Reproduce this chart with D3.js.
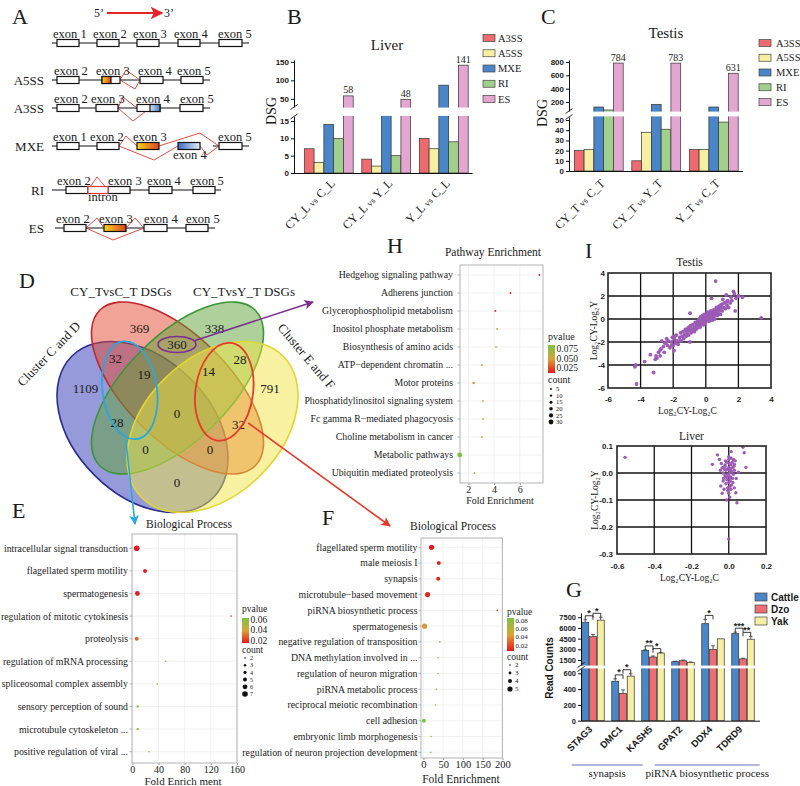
<!DOCTYPE html>
<html>
<head>
<meta charset="utf-8">
<script src="https://cdn.jsdelivr.net/npm/d3@7"></script>
<style>
  body { margin: 0; background: #fff; }
  svg text { font-family: "Liberation Serif", "Times New Roman", serif; fill: #1a1a1a; }
  .tk text { font-family: "Liberation Sans", Arial, sans-serif; font-weight: bold; }
  .tk path, .tk line { stroke: #111; }
</style>
</head>
<body>
<div id="main"></div>
<script>
// ---------------- data ----------------
var spliceTypes = ["A3SS", "A5SS", "MXE", "RI", "ES"];
var spliceColors = ["#ee6a6e", "#f7f0a2", "#4a85c7", "#a1cf8c", "#e3a6d0"];

var liverGroups = ["CY_L vs C_L", "CY_L vs Y_L", "Y_L vs C_L"];
var liverA3SS = [7, 4, 10];
var liverA5SS = [3, 2, 7];
var liverMXE = [14, 18, 87];
var liverRI = [10, 5, 9];
var liverES = [58, 48, 141];

var testisGroups = ["CY_T vs C_T", "CY_T vs Y_T", "Y_T vs C_T"];
var testisA3SS = [20, 10, 21];
var testisA5SS = [21, 38, 21];
var testisMXE = [125, 165, 125];
var testisRI = [80, 41, 48];
var testisES = [784, 783, 631];

// venn: membership key = [Cluster C and D, CY_TvsC_T, CY_TvsY_T, Cluster E and F]
var vennNames = ["Cluster C and D", "CY_TvsC_T DSGs", "CY_TvsY_T DSGs", "Cluster E and F"];
var vennRegions = ["1000", "0100", "0010", "0001", "0110", "1100", "0011", "1110", "0111", "1010", "0101", "1111", "1011", "1101", "1001"];
var vennCounts = [1109, 369, 338, 791, 360, 32, 28, 19, 14, 28, 32, 0, 0, 0, 0];
var cyanLoop = ["1100", "1110", "1010"];
var redLoop = ["0011", "0111", "0101"];

var hTerms = ["Hedgehog signaling pathway", "Adherens junction", "Glycerophospholipid metabolism", "Inositol phosphate metabolism",
  "Biosynthesis of amino acids", "ATP\u2212dependent chromatin ...", "Motor proteins", "Phosphatidylinositol signaling system",
  "Fc gamma R\u2212mediated phagocyosis", "Choline metabolism in cancer", "Metabolic pathways", "Ubiquitin mediated proteolysis"];
var hFold = [7.52, 5.27, 4.1, 4.23, 4.15, 3.06, 2.41, 3.14, 3.14, 3.06, 1.33, 2.47];
var hPval = [0.010, 0.013, 0.016, 0.05, 0.052, 0.046, 0.042, 0.056, 0.056, 0.062, 0.085, 0.07];
var hCount = [5, 6, 7, 5, 5, 6, 10, 5, 5, 5, 30, 6];

var eTerms = ["intracellular signal transduction", "flagellated sperm motility", "spermatogenesis", "regulation of mitotic cytokinesis",
  "proteolysis", "regulation of mRNA processing", "spliceosomal complex assembly", "sensory perception of sound",
  "microtubule cytoskeleton ...", "positive regulation of viral ..."];
var eFold = [6.7, 19.4, 7.7, 151, 6.7, 51, 38, 8.2, 8.2, 25.5];
var ePval = [0.004, 0.008, 0.01, 0.02, 0.028, 0.05, 0.053, 0.062, 0.062, 0.056];
var eCount = [7, 5, 6, 2, 5, 2, 2, 3, 3, 2];

var fTerms = ["flagellated sperm motility", "male meiosis I", "synapsis", "microtubule\u2212based movement", "piRNA biosynthetic process",
  "spermatogenesis", "negative regulation of transposition", "DNA methylation involved in ...", "regulation of neuron migration",
  "piRNA metabolic process", "reciprocal meiotic recombination", "cell adhesion", "embryonic limb morphogenesis",
  "regulation of neuron projection development"];
var fFold = [20.7, 39, 37.5, 10.6, 187, 3, 41.8, 37.5, 37, 33.4, 30.8, 1.3, 19.8, 19];
var fPval = [0.005, 0.008, 0.009, 0.01, 0.014, 0.042, 0.055, 0.058, 0.06, 0.062, 0.065, 0.088, 0.07, 0.07];
var fCount = [5, 4, 4, 5, 2, 5, 2, 2, 2, 2, 2, 4, 2, 2];

var testisPoints = [[-4.3,-4.0],[-4.35,-4.15],[-4.25,-5.65],[-3.75,-3.7],[-3.2,-4.65],[-3.4,-3.1],[-3.0,-3.4],[-3.05,-3.2],[-2.8,-2.7],
  [-2.75,-2.6],[-2.7,-1.9],[-2.4,-1.7],[-2.9,-2.9],[-2.6,-2.4],[-2.55,-2.9],[-2.5,-2.1],[-2.35,-2.3],[-2.3,-1.9],[-2.2,-2.5],
  [-2.1,-2.0],[-2.05,-1.6],[-2.0,-2.3],[-1.95,-2.75],[-1.9,-1.8],[-1.85,-2.1],[-1.8,-1.4],[-1.75,-1.9],[-1.7,-2.2],[-1.6,-1.6],
  [-1.55,-1.2],[-1.5,-1.9],[-1.45,-1.5],[-1.4,-1.1],[-1.35,-1.7],[-1.3,-1.35],[-1.25,-0.9],[-1.2,-1.5],[-1.15,-1.2],[-1.1,-0.8],
  [-1.05,-1.4],[-1.0,-1.0],[-0.97,0.5],[-0.97,-2.0],[-0.95,-0.6],[-0.9,-1.2],[-0.85,-0.85],[-0.8,-0.5],[-0.75,-1.0],[-0.7,-0.7],
  [-0.65,-0.3],[-0.6,-0.9],[-0.55,-0.55],[-0.5,-0.2],[-0.5,-0.75],[-0.45,-0.4],[-0.4,0.0],[-0.4,-0.6],[-0.35,-0.25],[-0.3,0.2],
  [-0.3,-0.45],[-0.25,-0.1],[-0.2,0.3],[-0.2,-0.3],[-0.15,0.05],[-0.1,-0.15],[-0.1,0.4],[-0.05,-0.4],[0.0,0.0],[0.0,0.2],
  [0.0,-0.25],[0.05,0.5],[0.05,0.1],[0.1,-0.1],[0.1,0.3],[0.15,0.6],[0.15,0.0],[0.2,0.2],[0.2,-0.2],[0.25,0.45],[0.3,0.1],
  [0.3,0.7],[0.35,0.3],[0.35,1.8],[0.4,0.5],[0.4,-0.1],[0.45,0.2],[0.5,0.8],[0.5,0.4],[0.55,0.0],[0.6,0.6],[0.6,3.3],[0.65,1.0],
  [0.7,0.3],[0.7,0.8],[0.75,0.5],[0.8,1.1],[0.85,0.7],[0.9,0.4],[0.95,1.0],[1.0,1.3],[1.0,0.7],[1.05,1.7],[1.1,1.0],[1.15,1.4],
  [1.2,0.9],[1.25,2.1],[1.3,1.2],[1.35,1.6],[1.4,1.0],[1.5,1.4],[1.55,1.9],[1.6,1.6],[1.7,2.4],[1.75,2.2],[1.8,0.7],[1.85,1.8],
  [2.0,2.0],[2.25,1.9],[3.4,0.1],[-0.8,-0.9],[-0.6,-0.4],[-0.2,0.0],[0.1,0.1],[0.3,0.3],[-1.6,-1.9],[-2.1,-2.3],[-2.8,-3.2],
  [-3.1,-3.5],[-0.35,-0.7],[0.45,0.65],[0.8,0.9],[-1.2,-1.0],[-0.7,-1.1],[0.25,-0.05],[0.55,0.75],[-0.15,-0.5],[1.3,1.5],
  [0.9,1.2],[-1.9,-1.5],[-2.4,-2.0],[-0.05,0.15],[0.12,0.42],[-0.28,-0.05],[0.62,0.35],[-1.02,-0.7]];

var liverPoints = [[-0.557,0.058],[0.0,-0.244],[0.076,0.095],[0.083,0.075],[0.013,0.079],[-0.061,0.067],[-0.05,0.05],[-0.088,0.032],
  [0.03,0.032],[0.025,0.05],[0.092,0.021],[0.052,0.003],[-0.043,-0.048],[0.03,-0.055],[0.038,-0.073],[0.044,-0.11],[-0.01,-0.1],
  [-0.03,-0.03],[-0.02,0.03],[-0.01,0.04],[0.0,0.05],[0.01,0.03],[0.02,0.02],[-0.025,0.015],[-0.015,0.01],[0.0,0.02],[0.005,0.0],
  [0.015,0.005],[-0.005,-0.005],[-0.02,-0.01],[0.01,-0.015],[0.02,-0.02],[-0.01,-0.025],[0.0,-0.035],[0.005,-0.05],[-0.015,-0.04],
  [0.012,-0.06],[-0.005,-0.065],[0.0,-0.075],[0.008,-0.03],[-0.03,0.0],[0.025,-0.005],[0.03,0.01],[-0.035,0.02],[0.018,0.04],
  [-0.008,0.015],[0.004,0.01],[-0.012,-0.015],[0.01,0.015],[-0.02,0.025],[0.0,-0.01],[0.006,-0.02],[-0.028,-0.02],[0.022,-0.035],
  [-0.04,0.035],[0.035,0.045],[0.002,0.035],[-0.018,0.045],[0.014,-0.045],[-0.006,-0.055],[0.028,0.025],[-0.045,0.01],[0.04,-0.02],
  [0.0,0.06],[0.012,0.055],[-0.025,-0.06],[0.005,-0.09],[-0.035,-0.075]];

var genes = ["STAG3", "DMC1", "KASH5", "GPAT2", "DDX4", "TDRD9"];
var breeds = ["Cattle", "Dzo", "Yak"];
var breedColors = ["#4a86c8", "#ee6d75", "#f6efa3"];
var cattleCounts = [6800, 500, 2860, 1270, 6600, 5200];
var dzoCounts = [4780, 345, 1920, 1400, 3000, 1650];
var yakCounts = [7100, 565, 2480, 1180, 4470, 4420];
var cattleErr = [350, 30, 60, 60, 600, 200];
var dzoErr = [300, 45, 150, 100, 500, 100];
var yakErr = [400, 30, 60, 40, 0, 400];
var sigGenes = ["STAG3", "STAG3", "DMC1", "DMC1", "KASH5", "KASH5", "DDX4", "TDRD9", "TDRD9"];
var sigFrom = ["Cattle", "Dzo", "Cattle", "Dzo", "Cattle", "Dzo", "Cattle", "Cattle", "Dzo"];
var sigTo = ["Dzo", "Yak", "Dzo", "Yak", "Dzo", "Yak", "Dzo", "Dzo", "Yak"];
var sigMarks = ["*", "*", "*", "*", "**", "*", "*", "***", "**"];
var processNames = ["synapsis", "piRNA biosynthetic process"];
var processFirst = ["STAG3", "GPAT2"];
var processLast = ["KASH5", "TDRD9"];

// ---------------- setup ----------------
var svg = d3.select("#main").append("svg").attr("width", 800).attr("height", 786);
svg.append("rect").attr("width", 800).attr("height", 786).attr("fill", "#fff");
var defs = svg.append("defs");

var pColors = ["#e8191c", "#d9a437", "#7bc244"];

function lingrad(id, stops, vertical) {
  var gr = defs.append("linearGradient").attr("id", id)
    .attr("x1", 0).attr("y1", 0).attr("x2", vertical ? 0 : 1).attr("y2", vertical ? 1 : 0);
  stops.forEach(function (c, i) {
    gr.append("stop").attr("offset", (i / (stops.length - 1) * 100) + "%").attr("stop-color", c);
  });
}
lingrad("gOrange", ["#f7d51d", "#eb8d20", "#d8431f"]);
lingrad("gBlue", ["#3c6cbd", "#8fb0de", "#e4edf8"]);
lingrad("gBlueR", ["#dbe7f6", "#4a7cc4"]);
lingrad("gP", [pColors[2], pColors[1], pColors[0]], true);

function arrowHead(id, color, size) {
  defs.append("marker").attr("id", id).attr("viewBox", "0 0 10 10").attr("refX", 9).attr("refY", 5)
    .attr("markerWidth", size).attr("markerHeight", size).attr("orient", "auto")
    .append("path").attr("d", "M0,0L10,5L0,10L2.5,5z").attr("fill", color);
}
arrowHead("ahTop", "#e3262c", 7);
arrowHead("ahPurple", "#7d2f90", 6);
arrowHead("ahCyan", "#29a8e0", 6);
arrowHead("ahRed", "#e8392a", 6);

function label(g, x, y, s, size, anchor) {
  return g.append("text").attr("x", x).attr("y", y).attr("font-size", size)
    .attr("text-anchor", anchor || "start").text(s);
}
var plain = function (d) { return d; };

// panel letters
var panelLetters = [["A", 12, 24], ["B", 287, 24], ["C", 541, 24], ["D", 19, 288], ["H", 387, 253],
  ["I", 585, 258], ["E", 12, 518], ["F", 322, 525], ["G", 566, 597]];
panelLetters.forEach(function (p) { label(svg, p[1], p[2], p[0], 22); });

// ---------------- A : splicing schematics ----------------
var gA = svg.append("g");
label(gA, 94, 17, "5\u2019", 12);
gA.append("line").attr("x1", 107).attr("y1", 13).attr("x2", 162).attr("y2", 13)
  .attr("stroke", "#e3262c").attr("stroke-width", 1.8).attr("marker-end", "url(#ahTop)");
label(gA, 164, 17, "3\u2019", 12);

var rowsA = [
  { name: "", y: 43, lines: [[52, 249]],
    exons: [[57, 22, "exon 1", 53], [97, 22, "exon 2", 93], [137, 22, "exon 3", 133], [178, 22, "exon 4", 174], [219, 23, "exon 5", 218]],
    splices: [] },
  { name: "A5SS", y: 80, lines: [[52, 210]],
    exons: [[57, 22, "exon 2", 54], [102, 18, "exon 3", 96], [140, 23, "exon 4", 138], [181, 22, "exon 5", 177]],
    parts: [[102, 9, "url(#gOrange)"]],
    splices: [[[120, 80], [126, 70], [140, 80]], [[120, 80], [135, 89], [140, 80]]] },
  { name: "A3SS", y: 108, lines: [[52, 210]],
    exons: [[57, 22, "exon 2", 54], [96, 22, "exon 3", 91], [137, 23, "exon 4", 136], [180, 23, "exon 5", 180]],
    parts: [[150, 10, "url(#gBlueR)"]],
    splices: [[[118, 108], [123, 97], [137, 108]], [[118, 108], [133, 121], [150, 108]]] },
  { name: "MXE", y: 146, lines: [[52, 119], [213, 249]],
    exons: [[57, 22, "exon 1", 53], [97, 22, "exon 2", 90], [137, 22, "exon 3", 133, "url(#gOrange)"],
      [178, 22, "exon 4", 173, "url(#gBlue)", 1], [219, 23, "exon 5", 218]],
    splices: [[[119, 146], [126, 136], [137, 146]], [[159, 146], [200, 133], [219, 146]],
      [[119, 146], [154, 160], [178, 146]], [[200, 146], [207, 155], [219, 146]]] },
  { name: "RI", y: 190, lines: [[52, 221]],
    exons: [[66, 22, "exon 2", 57], [108, 22, "exon 3", 108], [149, 23, "exon 4", 147], [193, 22, "exon 5", 190]],
    intron: [88, 20],
    splices: [[[88, 190], [97, 177], [108, 190]]] },
  { name: "ES", y: 228, lines: [[55, 215]],
    exons: [[64, 22, "exon 2", 56], [104, 22, "exon 3", 99, "url(#gOrange)"], [144, 23, "exon 4", 144], [186, 22, "exon 5", 186]],
    splices: [[[86, 228], [97, 218], [104, 228]], [[126, 228], [135, 218], [144, 228]], [[86, 228], [113, 240], [144, 228]]] }
];

rowsA.forEach(function (r) {
  var g = gA.append("g");
  r.lines.forEach(function (l) {
    g.append("line").attr("x1", l[0]).attr("x2", l[1]).attr("y1", r.y).attr("y2", r.y)
      .attr("stroke", "#111").attr("stroke-width", 1.2);
  });
  r.splices.forEach(function (p) {
    g.append("path").attr("d", d3.line()(p)).attr("fill", "none").attr("stroke", "#e2392f").attr("stroke-width", 0.9);
  });
  r.exons.forEach(function (e) {
    g.append("rect").attr("x", e[0]).attr("y", r.y - 3.5).attr("width", e[1]).attr("height", 7)
      .attr("fill", e[4] || "#fff").attr("stroke", "#111").attr("stroke-width", 1.2);
    label(g, e[3], e[5] ? r.y + 13 : r.y - 5, e[2], 12.5);
  });
  (r.parts || []).forEach(function (p) {
    g.append("rect").attr("x", p[0]).attr("y", r.y - 3.5).attr("width", p[1]).attr("height", 7)
      .attr("fill", p[2]).attr("stroke", "#111").attr("stroke-width", 1.2);
  });
  if (r.intron) {
    g.append("rect").attr("x", r.intron[0]).attr("y", r.y - 3.5).attr("width", r.intron[1]).attr("height", 7)
      .attr("fill", "#fff").attr("stroke", "#e2392f").attr("stroke-width", 1.2);
    label(g, r.intron[0], r.y + 11, "intron", 12.5);
  }
  if (r.name) label(g, 44, r.y, r.name, 13, "end").attr("dy", "0.35em");
});

// ---------------- B, C, G : bar charts with a broken y axis ----------------
function brokenBars(o) {
  var g = svg.append("g");
  var x0 = d3.scaleBand().domain(o.groups).range(o.band).paddingInner(o.padIn).paddingOuter(o.padOut);
  var x1 = d3.scaleBand().domain(o.series).range([0, x0.bandwidth()]).paddingInner(o.barGap || 0);
  var yLow = d3.scaleLinear().domain(o.lowDomain).range(o.lowRange);
  var yUp = d3.scaleLinear().domain(o.upDomain).range(o.upRange);
  var lowMax = o.lowDomain[1], upMin = o.upDomain[0];
  var gapBottom = yLow(lowMax), gapTop = yUp(upMin);
  var yv = function (v) {
    if (v <= lowMax) return yLow(v);
    if (v >= upMin) return yUp(v);
    return gapBottom + (gapTop - gapBottom) * (v - lowMax) / (upMin - lowMax);
  };
  var cells = [];
  o.series.forEach(function (s, si) {
    o.groups.forEach(function (gr, gi) {
      cells.push({ s: s, si: si, g: gr, v: o.values[si][gi], e: o.errors ? o.errors[si][gi] : 0 });
    });
  });
  g.selectAll(".bar").data(cells).enter().append("rect").attr("class", "bar")
    .attr("x", function (d) { return x0(d.g) + x1(d.s); })
    .attr("width", x1.bandwidth())
    .attr("y", function (d) { return yv(d.v); })
    .attr("height", function (d) { return yLow(0) - yv(d.v); })
    .attr("fill", function (d) { return o.colors[d.si]; })
    .attr("stroke", "#333").attr("stroke-width", 0.7);
  if (o.errors) {
    g.selectAll(".err").data(cells.filter(function (d) { return d.e > 0; })).enter().append("path")
      .attr("d", function (d) {
        var cx = x0(d.g) + x1(d.s) + x1.bandwidth() / 2, y1 = yv(d.v), y2 = yv(d.v + d.e);
        return "M" + cx + "," + y1 + "V" + y2 + "M" + (cx - 1.8) + "," + y2 + "H" + (cx + 1.8);
      })
      .attr("stroke", "#333").attr("stroke-width", 0.8).attr("fill", "none");
  }
  // white band = the break
  g.append("rect").attr("x", o.axisX - 5).attr("y", gapTop + 0.6)
    .attr("width", o.axisEnd - o.axisX + 8).attr("height", gapBottom - gapTop - 1.2).attr("fill", "#fff");
  [yLow, yUp].forEach(function (sc, k) {
    var ax = g.append("g").attr("class", "tk").attr("transform", "translate(" + o.axisX + ",0)")
      .call(d3.axisLeft(sc).tickValues(k ? o.upTicks : o.lowTicks).tickFormat(plain).tickSize(3).tickPadding(2).tickSizeOuter(0));
    ax.selectAll("text").attr("font-size", o.tickFont);
  });
  g.append("line").attr("x1", o.axisX).attr("x2", o.axisEnd).attr("y1", yLow(0) + 0.5).attr("y2", yLow(0) + 0.5)
    .attr("stroke", "#111");
  [gapTop, gapBottom].forEach(function (yy) {
    g.append("line").attr("x1", o.axisX - 3.5).attr("y1", yy + 2.5).attr("x2", o.axisX + 3.5).attr("y2", yy - 2.5)
      .attr("stroke", "#111").attr("stroke-width", 0.9);
  });
  return { g: g, x0: x0, x1: x1, yv: yv };
}

function groupLabels(chart, groups, y, dx) {
  chart.g.selectAll(".xl").data(groups).enter().append("text").attr("class", "xl")
    .attr("transform", function (d) {
      return "translate(" + (chart.x0(d) + chart.x0.bandwidth() / 2 + dx) + "," + y + ") rotate(-45)";
    })
    .attr("text-anchor", "end").attr("font-size", 12)
    .each(function (d) {
      var parts = d.split(" vs "), t = d3.select(this);
      t.append("tspan").text(parts[0] + " ");
      t.append("tspan").attr("font-size", 9).text("vs");
      t.append("tspan").text(" " + parts[1]);
    });
}

function esLabels(chart, groups, values) {
  chart.g.selectAll(".vl").data(values).enter().append("text").attr("class", "vl")
    .attr("x", function (d, i) { return chart.x0(groups[i]) + chart.x1("ES") + chart.x1.bandwidth() / 2; })
    .attr("y", function (d) { return chart.yv(d) - 2.5; })
    .attr("text-anchor", "middle").attr("font-size", 10).text(function (d) { return d; });
}

function barLegend(x, yTop, yBottom, textX) {
  var ly = d3.scalePoint().domain(spliceTypes).range([yTop, yBottom]);
  var g = svg.append("g");
  g.selectAll("rect").data(spliceTypes).enter().append("rect")
    .attr("x", x).attr("y", function (d) { return ly(d) - 3.5; }).attr("width", 12).attr("height", 7)
    .attr("fill", function (d, i) { return spliceColors[i]; }).attr("stroke", "#444").attr("stroke-width", 0.7);
  g.selectAll("text").data(spliceTypes).enter().append("text")
    .attr("x", textX).attr("y", ly).attr("dy", "0.35em").attr("font-size", 10.5).text(function (d) { return d; });
}

// B  Liver
var liverChart = brokenBars({
  groups: liverGroups, series: spliceTypes, colors: spliceColors,
  values: [liverA3SS, liverA5SS, liverMXE, liverRI, liverES],
  band: [300, 472.5], padIn: 0.15, padOut: 0.075, axisX: 294, axisEnd: 472.5,
  lowDomain: [0, 16.3], lowRange: [173, 116.5], lowTicks: [0, 5, 10, 15],
  upDomain: [28, 155], upRange: [107, 60], upTicks: [50, 100, 150], tickFont: 8
});
groupLabels(liverChart, liverGroups, 184, 7);
esLabels(liverChart, liverGroups, liverES);
label(svg, 387, 50, "Liver", 15, "middle");
svg.append("text").attr("transform", "translate(276,111) rotate(-90)").attr("text-anchor", "middle")
  .attr("font-size", 14).text("DSG");
barLegend(483, 38, 99, 498);

// C  Testis
var testisChart = brokenBars({
  groups: testisGroups, series: spliceTypes, colors: spliceColors,
  values: [testisA3SS, testisA5SS, testisMXE, testisRI, testisES],
  band: [570, 742.5], padIn: 0.15, padOut: 0.075, axisX: 569, axisEnd: 743,
  lowDomain: [0, 53], lowRange: [171, 117], lowTicks: [0, 10, 20, 30, 40, 50],
  upDomain: [65, 830], upRange: [111, 60], upTicks: [200, 400, 600, 800], tickFont: 8
});
groupLabels(testisChart, testisGroups, 184, 7);
esLabels(testisChart, testisGroups, testisES);
label(svg, 666, 38, "Testis", 15, "middle");
svg.append("text").attr("transform", "translate(547,113) rotate(-90)").attr("text-anchor", "middle")
  .attr("font-size", 14).text("DSG");
barLegend(759, 43, 102, 776);

// ---------------- D : Venn ----------------
var gD = svg.append("g");
var vennShapes = [
  { cx: 142.5, cy: 427, a: 100, b: 68, rot: 45, fill: "#3036b5", stroke: "#2a2e8c" },
  { cx: 177.5, cy: 388, a: 110, b: 52, rot: 45, fill: "#e2482e", stroke: "#c1272d" },
  { cx: 177.5, cy: 388, a: 110, b: 52, rot: -45, fill: "#5da235", stroke: "#3b9537" },
  { cx: 212.5, cy: 427, a: 100, b: 68, rot: -45, fill: "#efe443", stroke: "#e3d630" }
];
vennShapes.forEach(function (s) {
  gD.append("ellipse").attr("cx", s.cx).attr("cy", s.cy).attr("rx", s.a).attr("ry", s.b)
    .attr("transform", "rotate(" + s.rot + "," + s.cx + "," + s.cy + ")")
    .attr("fill", s.fill).attr("fill-opacity", 0.5).attr("stroke", s.stroke).attr("stroke-width", 1.6);
});
function ellipseQ(s, px, py) {
  var t = s.rot * Math.PI / 180, dx = px - s.cx, dy = py - s.cy;
  var u = dx * Math.cos(t) + dy * Math.sin(t), v = -dx * Math.sin(t) + dy * Math.cos(t);
  return u * u / (s.a * s.a) + v * v / (s.b * s.b);
}
// region label = most interior grid point of each region
var regionBest = {};
for (var px = 30; px <= 330; px += 1.5) {
  for (var py = 280; py <= 540; py += 1.5) {
    var key = "", margin = Infinity;
    vennShapes.forEach(function (s) {
      var q = ellipseQ(s, px, py);
      key += q <= 1 ? "1" : "0";
      margin = Math.min(margin, Math.abs(Math.sqrt(q) - 1) * s.b);
    });
    if (!regionBest[key] || margin > regionBest[key].m) regionBest[key] = { x: px, y: py, m: margin };
  }
}
gD.selectAll(".vc").data(vennRegions).enter().append("text").attr("class", "vc")
  .attr("x", function (k) { return regionBest[k].x; })
  .attr("y", function (k) { return regionBest[k].y; })
  .attr("dy", "0.35em").attr("text-anchor", "middle").attr("font-size", 13)
  .text(function (k, i) { return vennCounts[i]; });

label(gD, 121, 296, vennNames[1], 13, "middle");
label(gD, 244, 296, vennNames[2], 13, "middle");
gD.append("text").attr("transform", "translate(52,357) rotate(-46)").attr("text-anchor", "middle")
  .attr("font-size", 13).text(vennNames[0]);
gD.append("text").attr("transform", "translate(303,359) rotate(50)").attr("text-anchor", "middle")
  .attr("font-size", 13).text(vennNames[3]);

// highlight loops around groups of region labels, and arrows to the enrichment panels
function loopAround(keys, color, tilt) {
  var xs = keys.map(function (k) { return regionBest[k].x; }), ys = keys.map(function (k) { return regionBest[k].y; });
  var cx = (d3.min(xs) + d3.max(xs)) / 2, cy = (d3.min(ys) + d3.max(ys)) / 2;
  gD.append("ellipse").attr("cx", cx).attr("cy", cy)
    .attr("rx", (d3.max(xs) - d3.min(xs)) / 2 + 13).attr("ry", (d3.max(ys) - d3.min(ys)) / 2 + 17)
    .attr("transform", "rotate(" + tilt + "," + cx + "," + cy + ")")
    .attr("fill", "none").attr("stroke", color).attr("stroke-width", 1.8);
  return { x: cx, y: cy + (d3.max(ys) - d3.min(ys)) / 2 + 17 };
}
var cyanEnd = loopAround(cyanLoop, "#29a8e0", -8);
var redEnd = loopAround(redLoop, "#e8392a", 8);
var mid = regionBest["0110"];
gD.append("ellipse").attr("cx", mid.x).attr("cy", mid.y).attr("rx", 19).attr("ry", 8)
  .attr("fill", "none").attr("stroke", "#7d2f90").attr("stroke-width", 1.6);
gD.append("line").attr("x1", mid.x + 18).attr("y1", mid.y - 4).attr("x2", 313).attr("y2", 302)
  .attr("stroke", "#7d2f90").attr("stroke-width", 1.6).attr("marker-end", "url(#ahPurple)");
gD.append("line").attr("x1", cyanEnd.x - 4).attr("y1", cyanEnd.y).attr("x2", 135).attr("y2", 524)
  .attr("stroke", "#29a8e0").attr("stroke-width", 1.6).attr("marker-end", "url(#ahCyan)");
gD.append("line").attr("x1", redEnd.x + 24).attr("y1", redEnd.y - 18).attr("x2", 390).attr("y2", 526)
  .attr("stroke", "#e8392a").attr("stroke-width", 1.6).attr("marker-end", "url(#ahRed)");

// ---------------- E, F, H : enrichment dot plots ----------------
function dotPlot(o) {
  var g = svg.append("g");
  var x = d3.scaleLinear().domain(o.xDomain).range([o.box[0], o.box[1]]);
  var y = d3.scalePoint().domain(o.terms).range([o.rowTop, o.rowBottom]);
  var color = d3.scaleLinear().domain([o.pRange[0], (o.pRange[0] + o.pRange[1]) / 2, o.pRange[1]])
    .range(pColors).clamp(true);
  var size = d3.scaleLinear().domain(o.countRange).range(o.rRange);
  var bw = o.box[1] - o.box[0], bh = o.box[3] - o.box[2];
  g.selectAll(".gx").data(o.xTicks).enter().append("line")
    .attr("x1", x).attr("x2", x).attr("y1", o.box[2]).attr("y2", o.box[3]).attr("stroke", "#ebebeb").attr("stroke-width", 0.7);
  g.selectAll(".gy").data(o.terms).enter().append("line")
    .attr("x1", o.box[0]).attr("x2", o.box[1]).attr("y1", y).attr("y2", y).attr("stroke", "#ebebeb").attr("stroke-width", 0.7);
  g.append("rect").attr("x", o.box[0]).attr("y", o.box[2]).attr("width", bw).attr("height", bh)
    .attr("fill", "none").attr("stroke", "#b3b3b3").attr("stroke-width", 1);
  g.selectAll(".tm").data(o.terms).enter().append("line")
    .attr("x1", o.box[0] - 2.5).attr("x2", o.box[0]).attr("y1", y).attr("y2", y).attr("stroke", "#999").attr("stroke-width", 0.7);
  g.selectAll(".lab").data(o.terms).enter().append("text")
    .attr("x", o.box[0] - o.labelGap).attr("y", y).attr("dy", "0.35em").attr("text-anchor", "end")
    .attr("font-size", 9.8).text(function (d) { return d; });
  var pts = o.terms.map(function (t, i) { return { t: t, f: o.fold[i], p: o.pval[i], c: o.count[i] }; });
  g.selectAll(".dot").data(pts).enter().append("circle")
    .attr("cx", function (d) { return x(d.f); }).attr("cy", function (d) { return y(d.t); })
    .attr("r", function (d) { return size(d.c); }).attr("fill", function (d) { return color(d.p); });
  var ax = g.append("g").attr("transform", "translate(0," + o.box[3] + ")")
    .call(d3.axisBottom(x).tickValues(o.xTicks).tickFormat(plain).tickSize(2).tickPadding(1).tickSizeOuter(0));
  ax.select(".domain").remove();
  ax.selectAll("line").attr("stroke", "#999");
  ax.selectAll("text").attr("font-size", o.tickFont);
  label(g, o.titleX, o.titleY, o.title, 11.5, "middle");
  label(g, o.xTitleX, o.xTitleY, o.xTitle, o.xTitleSize, "middle");
  // legend
  label(g, o.legX, o.pvalY, "pvalue", o.legSize);
  g.append("rect").attr("x", o.legX).attr("y", o.barTop).attr("width", 7).attr("height", o.barBottom - o.barTop)
    .attr("fill", "url(#gP)");
  var ly = d3.scaleLinear().domain(o.pRange).range([o.barBottom, o.barTop]);
  g.selectAll(".pt").data(o.pTicks).enter().append("text")
    .attr("x", o.legX + 8.5).attr("y", ly).attr("dy", "0.35em").attr("font-size", o.pFont)
    .text(d3.format(o.pFmt));
  label(g, o.legX, o.countY, "count", o.legSize);
  var cy = d3.scalePoint().domain(o.countKeys).range([o.countTop, o.countBottom]);
  g.selectAll(".ck").data(o.countKeys).enter().append("circle")
    .attr("cx", o.legX + 3).attr("cy", cy).attr("r", size).attr("fill", "#111");
  g.selectAll(".cl").data(o.countKeys).enter().append("text")
    .attr("x", o.legX + 8).attr("y", cy).attr("dy", "0.35em").attr("font-size", o.countFont)
    .text(function (d) { return d; });
}

// H
dotPlot({
  terms: hTerms, fold: hFold, pval: hPval, count: hCount,
  box: [460, 543, 265, 483], rowTop: 275, rowBottom: 473, xDomain: [1.35, 7.8], xTicks: [2, 4, 6],
  pRange: [0.012, 0.085], countRange: [5, 30], rRange: [0.9, 2.4], labelGap: 7, tickFont: 10,
  title: "Pathway Enrichment", titleX: 493, titleY: 256,
  xTitle: "Fold Enrichment", xTitleX: 500, xTitleY: 504, xTitleSize: 10,
  legX: 548, pvalY: 340, barTop: 345, barBottom: 373, pTicks: [0.025, 0.05, 0.075], pFmt: ".3f", pFont: 9.5,
  countY: 383, countKeys: [5, 10, 15, 20, 25, 30], countTop: 389, countBottom: 422, legSize: 10, countFont: 6.5
});
// E
dotPlot({
  terms: eTerms, fold: eFold, pval: ePval, count: eCount,
  box: [132, 237, 534, 763], rowTop: 548.3, rowBottom: 751.7, xDomain: [-0.5, 160], xTicks: [0, 40, 80, 120, 160],
  pRange: [0.015, 0.063], countRange: [2, 7], rRange: [0.8, 2.8], labelGap: 4, tickFont: 10,
  title: "Biological Process", titleX: 189, titleY: 528,
  xTitle: "Fold Enrich ment", xTitleX: 183, xTitleY: 785, xTitleSize: 11,
  legX: 242, pvalY: 612, barTop: 618, barBottom: 643, pTicks: [0.02, 0.04, 0.06], pFmt: ".2f", pFont: 9.5,
  countY: 653, countKeys: [2, 3, 4, 5, 6, 7], countTop: 658, countBottom: 694, legSize: 9.5, countFont: 6.2
});
// F
dotPlot({
  terms: fTerms, fold: fFold, pval: fPval, count: fCount,
  box: [421, 502.4, 538, 758], rowTop: 547.3, rowBottom: 752.3, xDomain: [-6, 200], xTicks: [0, 50, 100, 150, 200],
  pRange: [0.006, 0.086], countRange: [2, 5], rRange: [0.8, 2.6], labelGap: 3.5, tickFont: 10.5,
  title: "Biological Process", titleX: 453, titleY: 530,
  xTitle: "Fold Enrichment", xTitleX: 461, xTitleY: 783, xTitleSize: 11.5,
  legX: 507, pvalY: 615, barTop: 618, barBottom: 651, pTicks: [0.02, 0.04, 0.06, 0.08], pFmt: ".2f", pFont: 7,
  countY: 660, countKeys: [2, 3, 4, 5], countTop: 665, countBottom: 689, legSize: 9.5, countFont: 7
});

// ---------------- I : scatter plots ----------------
function scatter(o) {
  var g = svg.append("g");
  var x = d3.scaleLinear().domain(o.xDomain).range([o.box[0], o.box[1]]);
  var y = d3.scaleLinear().domain(o.yDomain).range([o.box[3], o.box[2]]);
  var inner = function (t, dom) { return t.filter(function (v) { return v > dom[0] + 1e-9 && v < dom[1] - 1e-9; }); };
  g.selectAll(".vx").data(inner(o.xTicks, o.xDomain)).enter().append("line")
    .attr("x1", x).attr("x2", x).attr("y1", o.box[2]).attr("y2", o.box[3]).attr("stroke", "#111").attr("stroke-width", 1.3);
  g.selectAll(".hy").data(inner(o.yTicks, o.yDomain)).enter().append("line")
    .attr("y1", y).attr("y2", y).attr("x1", o.box[0]).attr("x2", o.box[1]).attr("stroke", "#111").attr("stroke-width", 1.3);
  g.selectAll(".pt").data(o.points).enter().append("circle")
    .attr("cx", function (d) { return x(d[0]); }).attr("cy", function (d) { return y(d[1]); })
    .attr("r", o.r).attr("fill", "#9c5bb5");
  g.append("rect").attr("x", o.box[0]).attr("y", o.box[2]).attr("width", o.box[1] - o.box[0])
    .attr("height", o.box[3] - o.box[2]).attr("fill", "none").attr("stroke", "#222").attr("stroke-width", 1.6);
  var ax = g.append("g").attr("class", "tk").attr("transform", "translate(0," + o.box[3] + ")")
    .call(d3.axisBottom(x).tickValues(o.xTicks).tickFormat(o.fmt).tickSize(0).tickPadding(o.padX));
  ax.select(".domain").remove();
  ax.selectAll("text").attr("font-size", 8);
  var ay = g.append("g").attr("class", "tk").attr("transform", "translate(" + o.box[0] + ",0)")
    .call(d3.axisLeft(y).tickValues(o.yTicks).tickFormat(o.fmt).tickSize(0).tickPadding(o.padY));
  ay.select(".domain").remove();
  ay.selectAll("text").attr("font-size", 8);
  label(g, (o.box[0] + o.box[1]) / 2, o.titleY, o.title, 11.5, "middle");
  label(g, (o.box[0] + o.box[1]) / 2 - 2, o.xTitleY, "Log\u2082CY-Log\u2082C", 9.5, "middle");
  g.append("text").attr("transform", "translate(" + o.yTitleX + "," + (o.box[2] + o.box[3]) / 2 + ") rotate(-90)")
    .attr("text-anchor", "middle").attr("font-size", 9.5).text("Log\u2082CY-Log\u2082Y");
}
scatter({
  points: testisPoints, title: "Testis", box: [608, 771, 273, 388], xDomain: [-6, 4], yDomain: [-6, 4],
  xTicks: [-6, -4, -2, 0, 2, 4], yTicks: [-6, -4, -2, 0, 2, 4], fmt: plain,
  padX: 8, padY: 3, r: 1.9, titleY: 266, xTitleY: 414, yTitleX: 597
});
scatter({
  points: liverPoints, title: "Liver", box: [617, 766, 446, 554], xDomain: [-0.6, 0.2], yDomain: [-0.3, 0.1],
  xTicks: [-0.6, -0.4, -0.2, 0, 0.2], yTicks: [-0.3, -0.2, -0.1, 0, 0.1], fmt: function (d) { return d.toFixed(1); },
  padX: 9, padY: 4, r: 1.7, titleY: 440, xTitleY: 581, yTitleX: 598
});

// ---------------- G : read counts ----------------
var gChart = brokenBars({
  groups: genes, series: breeds, colors: breedColors,
  values: [cattleCounts, dzoCounts, yakCounts], errors: [cattleErr, dzoErr, yakErr],
  band: [581, 755], padIn: 0.25, padOut: 0.025, barGap: 0.1, axisX: 581, axisEnd: 760,
  lowDomain: [0, 655], lowRange: [720.7, 669], lowTicks: [0, 200, 400, 600],
  upDomain: [800, 8100], upRange: [665, 613], upTicks: [1500, 3000, 4500, 6000, 7500], tickFont: 7.5
});
gChart.g.selectAll(".gl").data(genes).enter().append("text").attr("class", "gl")
  .attr("transform", function (d) { return "translate(" + (gChart.x0(d) + gChart.x0.bandwidth() / 2) + ",730) rotate(-45)"; })
  .attr("text-anchor", "end").style("font-family", "'Liberation Sans', Arial, sans-serif").style("font-weight", "bold")
  .attr("font-size", 9.5).text(function (d) { return d; });

var breedValues = [cattleCounts, dzoCounts, yakCounts], breedErrs = [cattleErr, dzoErr, yakErr];
function barTop(gene, breed) {
  var si = breeds.indexOf(breed), gi = genes.indexOf(gene);
  return gChart.yv(breedValues[si][gi] + breedErrs[si][gi]);
}
sigGenes.forEach(function (gene, i) {
  var xa = gChart.x0(gene) + gChart.x1(sigFrom[i]) + gChart.x1.bandwidth() / 2;
  var xb = gChart.x0(gene) + gChart.x1(sigTo[i]) + gChart.x1.bandwidth() / 2;
  var yb = Math.min(barTop(gene, sigFrom[i]), barTop(gene, sigTo[i])) - 4;
  gChart.g.append("path").attr("d", "M" + xa + "," + (yb + 4) + "V" + yb + "H" + xb + "V" + (yb + 4))
    .attr("fill", "none").attr("stroke", "#222").attr("stroke-width", 0.9);
  gChart.g.append("text").attr("x", (xa + xb) / 2).attr("y", yb + 0.5).attr("text-anchor", "middle")
    .style("font-family", "'Liberation Sans', Arial, sans-serif").style("font-weight", "bold")
    .attr("font-size", 9).text(sigMarks[i]);
});

var lgY = d3.scalePoint().domain(breeds).range([597, 621]);
var gLeg = svg.append("g");
gLeg.selectAll("rect").data(breeds).enter().append("rect")
  .attr("x", 755).attr("y", function (d) { return lgY(d) - 4; }).attr("width", 12).attr("height", 8)
  .attr("fill", function (d, i) { return breedColors[i]; }).attr("stroke", "#444").attr("stroke-width", 0.7);
gLeg.selectAll("text").data(breeds).enter().append("text")
  .attr("x", 771).attr("y", lgY).attr("dy", "0.35em").style("font-family", "'Liberation Sans', Arial, sans-serif")
  .style("font-weight", "bold").attr("font-size", 10).text(function (d) { return d; });

svg.append("text").attr("transform", "translate(553,668) rotate(-90)").attr("text-anchor", "middle")
  .style("font-family", "'Liberation Sans', Arial, sans-serif").style("font-weight", "bold")
  .attr("font-size", 10).text("Read Counts");

var processPad = [[-10, 1], [-17, 28]];
processNames.forEach(function (name, i) {
  var xs = gChart.x0(processFirst[i]) + processPad[i][0], xe = gChart.x0(processLast[i]) + processPad[i][1];
  svg.append("line").attr("x1", xs).attr("x2", xe).attr("y1", 765).attr("y2", 765)
    .attr("stroke", "#6a72c0").attr("stroke-width", 1.2);
  label(svg, (xs + xe) / 2, 777, name, 11, "middle");
});
</script>
</body>
</html>
